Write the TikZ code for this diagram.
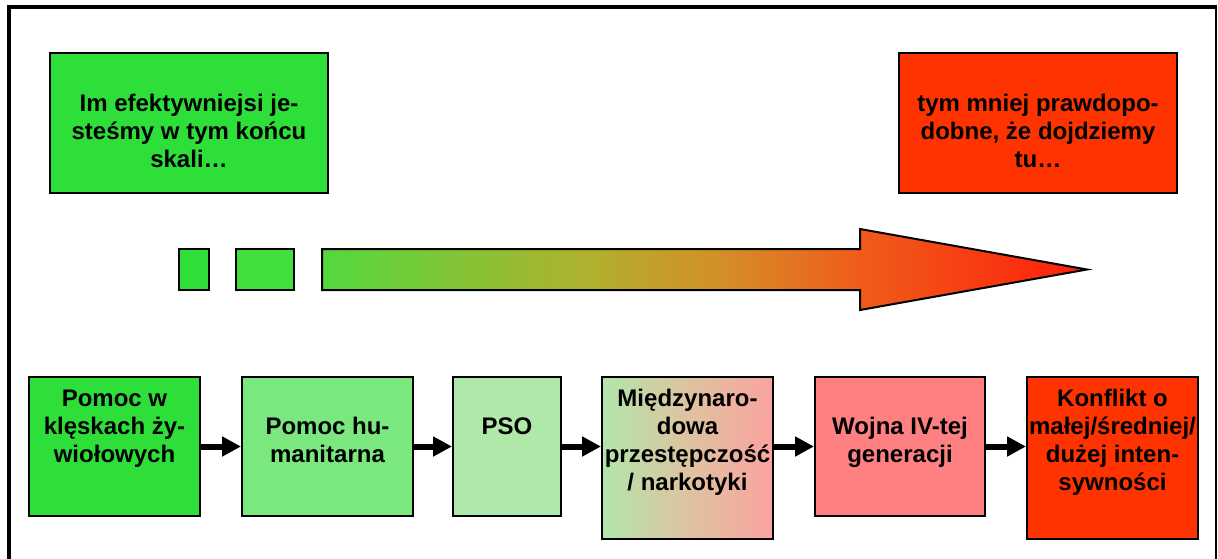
\documentclass[tikz,border=0pt]{standalone}
\usepackage{fontspec}
\setmainfont{Liberation Sans}
\usetikzlibrary{arrows.meta}
\definecolor{cgreen}{RGB}{46,223,58}
\definecolor{cgreenb}{RGB}{66,222,60}
\definecolor{cgreen2}{RGB}{122,232,126}
\definecolor{cgreen3}{RGB}{176,232,170}
\definecolor{cmixl}{RGB}{178,230,170}
\definecolor{cmixm}{RGB}{222,195,160}
\definecolor{cmixr}{RGB}{250,163,160}
\definecolor{cpink}{RGB}{255,128,128}
\definecolor{cred}{RGB}{255,51,0}
\pgfdeclarehorizontalshading{arrowgrad}{100bp}{rgb(0bp)=(0.33,0.85,0.24); rgb(25bp)=(0.33,0.85,0.24); rgb(42.5bp)=(0.69,0.69,0.18); rgb(51bp)=(0.83,0.56,0.16); rgb(60.2bp)=(0.94,0.36,0.10); rgb(75bp)=(1,0.12,0.04); rgb(100bp)=(1,0.12,0.04)}
\tikzset{
  boxst/.style={draw=black, line width=2pt, inner sep=0pt, minimum width=#1},
  txt/.style={font=\fontsize{24}{28}\selectfont\bfseries, align=center, inner sep=0pt, anchor=north, text=black},
  flow/.style={line width=6pt, -{Triangle[length=19pt,width=19pt]}}
}
\begin{document}
\begin{tikzpicture}[x=1pt,y=-1pt]
\useasboundingbox (0,0) rectangle (1218,558);
% frame
\draw[line width=4pt] (9,570) -- (9,6.5) -- (1217,6.5);
\draw[line width=2pt] (1216,6.5) -- (1216,570);
% top boxes
\node[boxst=278pt, minimum height=140pt, fill=cgreen] (tl) at (189,123) {};
\node[txt] (tlt) at (189,91.4) {\strut Im efektywniejsi je-\\steśmy w tym końcu\\skali…};
\node[boxst=278pt, minimum height=140pt, fill=cred] (tr) at (1038,123) {};
\node[txt] (trt) at (1038,91.4) {\strut tym mniej prawdopo-\\dobne, że dojdziemy\\tu…};
% small squares and big arrow
\node[boxst=30pt, minimum height=41pt, fill=cgreen] (sq1) at (194,269.5) {};
\node[boxst=58pt, minimum height=41pt, fill=cgreenb] (sq2) at (265,269.5) {};
\shadedraw[shading=arrowgrad, draw=black, line width=2pt, line join=miter]
  (322,249) -- (860,249) -- (860,229) -- (1087,269.5) -- (860,310) -- (860,290) -- (322,290) -- cycle;
% bottom boxes
\node[boxst=171pt, minimum height=139pt, fill=cgreen] (b1) at (114.5,446.5) {};
\node[boxst=171pt, minimum height=139pt, fill=cgreen2] (b2) at (327.5,446.5) {};
\node[boxst=108pt, minimum height=139pt, fill=cgreen3] (b3) at (507,446.5) {};
\node[boxst=171pt, minimum height=162pt, left color=cmixl, right color=cmixr, middle color=cmixm] (b4) at (687.5,458) {};
\node[boxst=170pt, minimum height=139pt, fill=cpink] (b5) at (900,446.5) {};
\node[boxst=171pt, minimum height=162pt, fill=cred] (b6) at (1112.5,458) {};
\node[txt] (b1t) at (114.5,386.4) {\strut Pomoc w\\klęskach ży-\\wiołowych};
\node[txt] (b2t) at (327.5,414.4) {\strut Pomoc hu-\\manitarna};
\node[txt] (b3t) at (507,414.4) {\strut PSO};
\node[txt] (b4t) at (687.5,386.4) {\strut Międzynaro-\\dowa\\przestępczość\\/ narkotyki};
\node[txt] (b5t) at (900,414.4) {\strut Wojna IV-tej\\generacji};
\node[txt] (b6t) at (1112.5,386.4) {\strut Konflikt o\\małej/średniej/\\dużej inten-\\sywności};
% connectors
\draw[flow] (b1.east) -- (b2.west);
\draw[flow] (b2.east) -- (b3.west);
\draw[flow] (b3.east) -- (b3.east -| b4.west);
\draw[flow] (b4.east |- b5.west) -- (b5.west);
\draw[flow] (b5.east) -- (b5.east -| b6.west);
\end{tikzpicture}
\end{document}
